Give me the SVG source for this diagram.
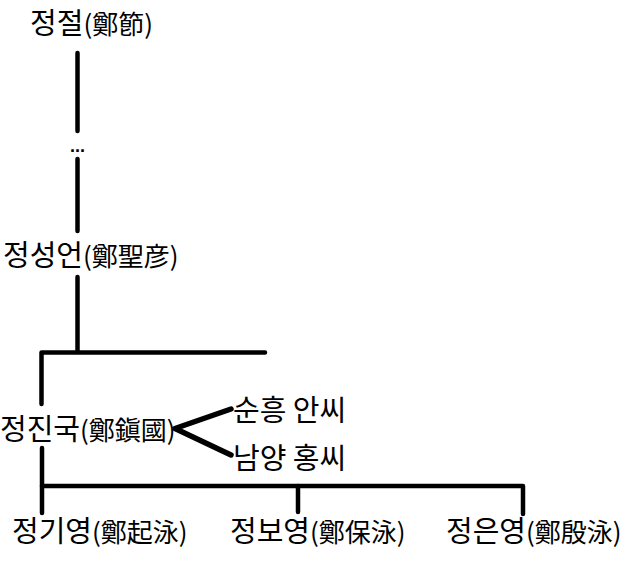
<svg xmlns="http://www.w3.org/2000/svg" width="639" height="584" viewBox="0 0 639 584">
<style>
.t{font-family:"Noto Sans CJK KR","Noto Sans",sans-serif;font-size:29px;fill:#000}
.h{font-size:26px}
.ln{fill:none;stroke:#000;stroke-width:4.5;stroke-linecap:round;stroke-linejoin:round}
.d{font-family:"Liberation Sans",sans-serif;font-size:18px;font-weight:bold;fill:#000}
</style>
<rect width="639" height="584" fill="#fff"/>
<g id="connectors">
<path class="ln" d="M77.5,53 V131"/>
<path class="ln" d="M77.5,159 V231"/>
<path class="ln" d="M77.5,277 V352"/>
<path class="ln" d="M41.5,404 V352.5 H265"/>
<path class="ln" d="M42,448 V513"/>
<path class="ln" d="M42,486 H523 V514"/>
<path class="ln" d="M298,486 V512"/>
<path class="ln" style="stroke-width:5.5" d="M231,409 L175,428.5 L231,455"/>
</g>
<g id="n-jeongjeol"><text class="t" x="30" y="34">정절<tspan class="h">(鄭節)</tspan></text></g>
<g id="n-ellipsis"><text class="d" x="77.5" y="152" text-anchor="middle">...</text></g>
<g id="n-jeongseongeon"><text class="t" x="3" y="266">정성언<tspan class="h">(鄭聖彦)</tspan></text></g>
<g id="n-jeongjinguk"><text class="t" x="0" y="440">정진국<tspan class="h">(鄭鎭國)</tspan></text></g>
<g id="n-sunheung"><text class="t" x="233" y="421">순흥 안씨</text></g>
<g id="n-namyang"><text class="t" x="233" y="469">남양 홍씨</text></g>
<g id="n-jeonggiyeong"><text class="t" x="12" y="542">정기영<tspan class="h">(鄭起泳)</tspan></text></g>
<g id="n-jeongboyeong"><text class="t" x="230" y="542">정보영<tspan class="h">(鄭保泳)</tspan></text></g>
<g id="n-jeongeunyeong"><text class="t" x="446" y="542">정은영<tspan class="h">(鄭殷泳)</tspan></text></g>
</svg>
